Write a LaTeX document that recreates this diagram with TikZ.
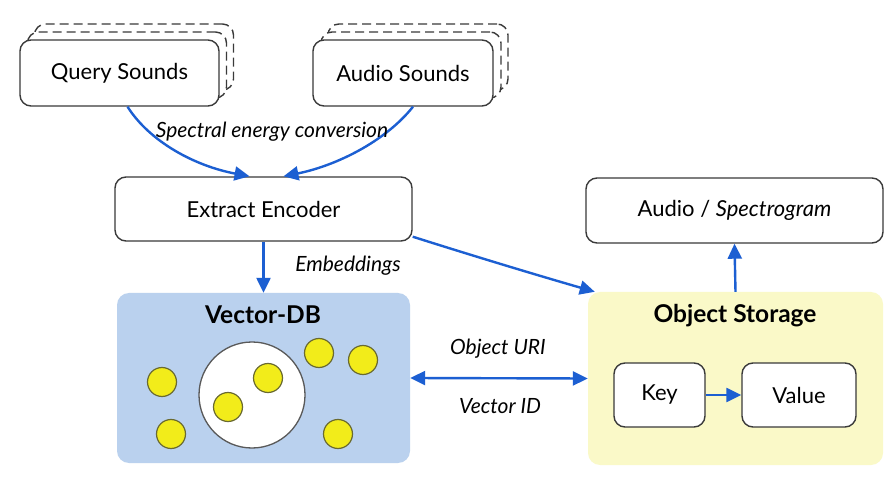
\documentclass[tikz,border=0pt]{standalone}
\usepackage{fontspec}
\setmainfont{Lato}
\usetikzlibrary{arrows.meta}
\definecolor{arrowblue}{HTML}{1C5FD2}
\definecolor{boxline}{HTML}{3A3A3A}
\definecolor{dbblue}{HTML}{BAD1EE}
\definecolor{ospale}{HTML}{FAF9C8}
\definecolor{dotyellow}{HTML}{F2EC1A}
\definecolor{dotline}{HTML}{6A6A30}
\tikzset{
  box/.style={draw=boxline, line width=1.4pt, rounded corners=11pt, fill=white, inner sep=0pt},
  dashbox/.style={box, dashed, dash pattern=on 9pt off 5pt},
  area/.style={rounded corners=12pt, inner sep=0pt},
  arr/.style={draw=arrowblue, line width=2.4pt, -{Triangle[length=15pt,width=14pt]}},
  darr/.style={draw=arrowblue, line width=2.4pt, {Triangle[length=15pt,width=14pt]}-{Triangle[length=15pt,width=14pt]}},
  lbl/.style={font=\fontsize{21}{24}\selectfont\itshape, inner sep=1pt},
  ttl/.style={font=\fontsize{24.5}{28}\selectfont\bfseries, inner sep=1pt},
  dot/.style={circle, draw=dotline, line width=1.2pt, fill=dotyellow, minimum size=29pt, inner sep=0pt},
}
\begin{document}
\begin{tikzpicture}[x=1pt, y=-1pt, font=\fontsize{22}{26}\selectfont]
\useasboundingbox[fill=white] (0,0) rectangle (895,489);

% stacked sound boxes
\node[dashbox, minimum width=199pt, minimum height=66pt] (q2) at (134,57) {};
\node[dashbox, minimum width=199pt, minimum height=66pt] (q1) at (127,65) {};
\node[box, minimum width=199pt, minimum height=66pt] (q) at (119.5,73) {Query Sounds};

\node[dashbox, minimum width=180pt, minimum height=66pt] (a2) at (418,57) {};
\node[dashbox, minimum width=180pt, minimum height=66pt] (a1) at (411,65) {};
\node[box, minimum width=180pt, minimum height=66pt] (a) at (403,73) {Audio Sounds};

% encoder
\node[box, minimum width=297pt, minimum height=64pt] (enc) at (263.5,209) {Extract Encoder};

% audio / spectrogram
\node[box, minimum width=297pt, minimum height=65pt] (as) at (734.5,210.5) {Audio / \textit{Spectrogram}};

% vector db area
\node[area, fill=dbblue, minimum width=293pt, minimum height=170pt] (vdb) at (263.5,378) {};
\node[ttl] (vdbt) at (263,315) {Vector-DB};
\node[circle, draw=black!65, line width=1.3pt, fill=white, minimum size=106pt, inner sep=0pt] (cl) at (252,395) {};
\node[dot] (d1) at (162,382) {};
\node[dot] (d2) at (171,434) {};
\node[dot] (d3) at (228,407) {};
\node[dot] (d4) at (268,378) {};
\node[dot] (d5) at (319,353) {};
\node[dot] (d6) at (363,360) {};
\node[dot] (d7) at (338,434) {};

% object storage area
\node[area, fill=ospale, minimum width=295pt, minimum height=173pt] (os) at (735.5,378.5) {};
\node[ttl] (ost) at (735,316) {Object Storage};
\node[box, minimum width=91pt, minimum height=64pt] (key) at (659.5,395) {Key};
\node[box, minimum width=114pt, minimum height=64pt] (val) at (799,395) {Value};

% connectors
\draw[arr] ([xshift=8pt]q.south) .. controls (150,142) and (195,166) .. ([xshift=-14pt]enc.north);
\draw[arr] ([xshift=10pt]a.south) .. controls (385,142) and (335,166) .. ([xshift=20pt]enc.north);
\node[lbl] (spec) at (272,132) {Spectral energy conversion};

\draw[arr] (enc.south) -- (vdb.north);
\node[lbl] (emb) at (348,266) {Embeddings};

\draw[arr] ([shift={(0,-5)}]enc.south east) .. controls (480,258) and (540,276) .. ([shift={(7,0)}]os.north west);

\draw[arr] (os.north) -- (as.south);

\draw[darr] (vdb.east) -- (os.west);
\node[lbl] (uri) at (498,349) {Object URI};
\node[lbl] (vid) at (500,406) {Vector ID};

\draw[arr] (key.east) -- (val.west);
\end{tikzpicture}
\end{document}
